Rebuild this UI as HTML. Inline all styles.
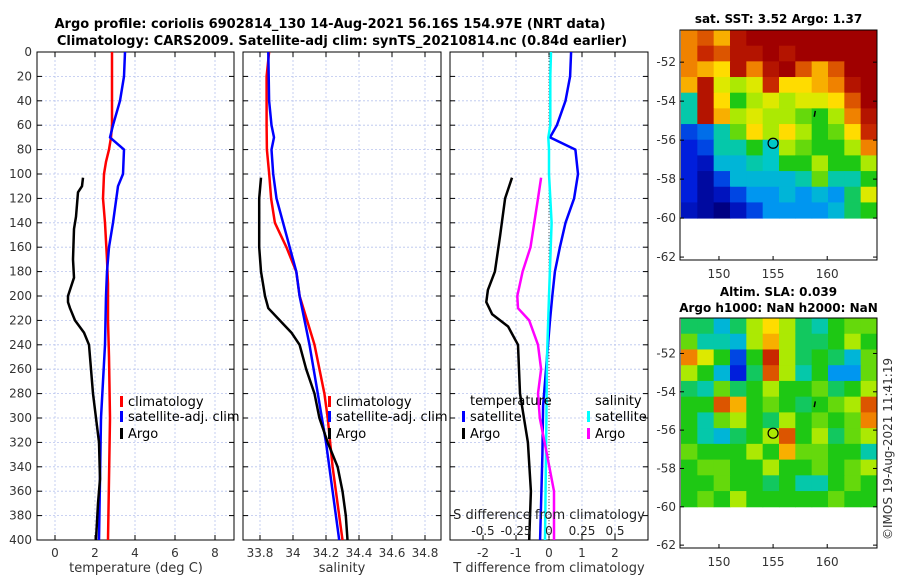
<!DOCTYPE html>
<html><head><meta charset="utf-8"><style>
body{margin:0;background:#fff;width:900px;height:580px;overflow:hidden}
svg{display:block;font-family:"DejaVu Sans","Liberation Sans",sans-serif}
</style></head><body>
<svg id="c" width="900" height="580"></svg>
<script>
// ---- data ----
const depthTicks=[0,20,40,60,80,100,120,140,160,180,200,220,240,260,280,300,320,340,360,380,400];
const tTicks=[0,2,4,6,8];
const sTicks=[33.8,34,34.2,34.4,34.6,34.8];
const dTicks=[-2,-1,0,1,2];
const sdTicks=[-0.5,-0.25,0,0.25,0.5];
const climTD=[0,20,40,60,70,80,90,100,120,140,170,190,220,250,300,350,400];
const climT=[2.85,2.85,2.85,2.85,2.8,2.7,2.55,2.45,2.4,2.5,2.6,2.65,2.65,2.7,2.75,2.7,2.65];
const satTD=[0,20,40,60,70,80,100,110,140,160,180,200,240,300,350,400];
const satT=[3.5,3.45,3.25,2.9,2.75,3.45,3.4,3.15,2.9,2.7,2.6,2.55,2.5,2.3,2.25,2.2];
const argoTD=[103,110,115,125,135,145,170,185,195,200,205,210,220,230,240,260,280,300,320,350,370,400];
const argoT=[1.4,1.35,1.15,1.1,1.05,0.95,0.9,0.95,0.75,0.65,0.65,0.75,1.0,1.45,1.7,1.8,1.9,2.05,2.2,2.25,2.15,2.05];
const climSD=[0,20,60,80,100,120,140,160,180,200,240,280,300,340,400];
const climS=[33.855,33.84,33.84,33.842,33.856,33.867,33.89,33.96,34.02,34.04,34.13,34.19,34.21,34.24,34.3];
const satSD=[0,40,60,70,80,100,120,140,160,180,200,240,280,320,360,400];
const satS=[33.85,33.855,33.87,33.885,33.87,33.88,33.9,33.94,33.98,34.02,34.04,34.1,34.15,34.2,34.24,34.28];
const argoSD=[103,120,160,180,200,210,220,230,240,260,280,300,320,340,360,380,400];
const argoS=[33.806,33.795,33.795,33.806,33.83,33.85,33.92,33.99,34.04,34.08,34.13,34.16,34.21,34.27,34.3,34.32,34.33];
const dSatTD=[0,20,40,60,70,80,100,120,140,160,180,200,220,250,290,330,400];
const dSatT=[0.67,0.64,0.5,0.24,0.03,0.8,0.88,0.76,0.5,0.33,0.18,0.1,0.03,-0.06,-0.18,-0.2,-0.27];
const dArgoTD=[103,120,150,180,195,205,215,225,240,280,320,360,400];
const dArgoT=[-1.12,-1.33,-1.48,-1.64,-1.85,-1.9,-1.72,-1.24,-0.94,-0.88,-0.64,-0.55,-0.6];
const dArgoSD=[103,120,160,180,200,210,220,240,260,280,300,330,360,400];
const dArgoS=[-0.06,-0.083,-0.14,-0.2,-0.24,-0.235,-0.15,-0.083,-0.06,-0.083,-0.07,-0.015,0.038,0.038];
const dSatSD=[0,20,60,70,80,100,140,200,250,300,400];
const dSatS=[0.015,0.01,0.01,-0.005,0,0,0.02,0,-0.015,-0.02,-0.03];
const lonTicks=[150,155,160];
const latTicks=[-52,-54,-56,-58,-60,-62];
const sstGrid=[
[0.8,0.85,0.75,0.95,1,1,1,1,1,1,1,1],
[0.8,0.9,0.85,0.95,0.95,1,0.95,1,1,1,1,1],
[0.8,0.75,0.7,0.95,0.8,0.95,1,0.85,0.75,0.85,1,1],
[0.75,0.95,0.65,0.6,0.65,0.9,0.7,0.7,0.75,0.8,0.95,1],
[0.4,0.95,0.7,0.5,0.6,0.65,0.6,0.65,0.65,0.7,0.85,1],
[0.4,0.95,0.75,0.6,0.65,0.6,0.6,0.55,0.5,0.6,0.8,0.95],
[0.2,0.25,0.4,0.55,0.7,0.6,0.7,0.6,0.5,0.55,0.7,0.9],
[0.15,0.2,0.4,0.4,0.5,0.38,0.6,0.55,0.5,0.5,0.6,0.8],
[0.15,0.1,0.35,0.35,0.4,0.38,0.5,0.5,0.6,0.5,0.5,0.6],
[0.15,0.05,0.2,0.35,0.35,0.35,0.35,0.4,0.55,0.4,0.4,0.5],
[0.15,0.05,0.1,0.2,0.3,0.3,0.35,0.3,0.35,0.3,0.45,0.65],
[0.1,0.05,0.0,0.1,0.2,0.3,0.3,0.3,0.3,0.35,0.45,0.5]];
const slaGrid=[
[0.45,0.45,0.35,0.45,0.6,0.7,0.6,0.45,0.4,0.5,0.55,0.55],
[0.55,0.4,0.4,0.35,0.6,0.75,0.6,0.45,0.45,0.5,0.6,0.5],
[0.8,0.65,0.5,0.2,0.5,0.9,0.6,0.45,0.5,0.45,0.35,0.55],
[0.6,0.5,0.35,0.15,0.45,0.85,0.6,0.4,0.5,0.3,0.3,0.55],
[0.45,0.4,0.55,0.45,0.5,0.6,0.5,0.5,0.55,0.45,0.5,0.6],
[0.5,0.5,0.85,0.75,0.5,0.55,0.5,0.45,0.5,0.55,0.6,0.85],
[0.5,0.4,0.55,0.6,0.5,0.45,0.6,0.5,0.55,0.5,0.55,0.8],
[0.5,0.4,0.35,0.45,0.5,0.6,0.85,0.5,0.6,0.45,0.55,0.6],
[0.55,0.5,0.5,0.5,0.6,0.5,0.75,0.55,0.55,0.5,0.5,0.4],
[0.5,0.55,0.55,0.5,0.5,0.6,0.5,0.5,0.55,0.5,0.55,0.6],
[0.5,0.5,0.55,0.5,0.5,0.45,0.5,0.4,0.4,0.5,0.55,0.5],
[0.5,0.55,0.5,0.6,0.5,0.5,0.5,0.5,0.5,0.55,0.5,0.5]];

const svg=document.getElementById('c');
const NS='http://www.w3.org/2000/svg';
function el(tag,attrs,parent,text){const e=document.createElementNS(NS,tag);for(const k in attrs)e.setAttribute(k,attrs[k]);if(text!==undefined)e.textContent=text;(parent||svg).appendChild(e);return e;}
const Y0=52,Y1=540;
const yD=d=>Y0+(d/400)*(Y1-Y0);

function panel(name,x0,x1,xmin,xmax,ticks,fmt,showY){
  const g=el('g',{});
  
  
  const sx=v=>x0+(v-xmin)/(xmax-xmin)*(x1-x0);
  ticks.forEach(t=>{el('line',{x1:sx(t),x2:sx(t),y1:Y0,y2:Y1,stroke:'#b8c4ee','stroke-width':0.8,'stroke-dasharray':'2,2'},g);
    el('text',{x:sx(t),y:Y1+17,'text-anchor':'middle','font-size':12,fill:'#333'},g,fmt(t));
    el('line',{x1:sx(t),x2:sx(t),y1:Y1,y2:Y1-5,stroke:'#000'},g);el('line',{x1:sx(t),x2:sx(t),y1:Y0,y2:Y0+5,stroke:'#000'},g);});
  depthTicks.forEach(d=>{el('line',{x1:x0,x2:x1,y1:yD(d),y2:yD(d),stroke:'#b8c4ee','stroke-width':0.8,'stroke-dasharray':'2,2'},g);
    el('line',{x1:x0,x2:x0+5,y1:yD(d),y2:yD(d),stroke:'#000'},g);el('line',{x1:x1-5,x2:x1,y1:yD(d),y2:yD(d),stroke:'#000'},g);
    if(showY){el('text',{x:x0-5,y:yD(d)+4,'text-anchor':'end','font-size':12,fill:'#333'},g,String(d));}});
  el('rect',{x:x0,y:Y0,width:x1-x0,height:Y1-Y0,fill:'none',stroke:'#000'},g);
  return {g,sx};
}
function line(p,depths,vals,color,name,w){
  const pts=depths.map((d,i)=>p.sx(vals[i]).toFixed(1)+','+yD(d).toFixed(1)).join(' ');
  const l=el('polyline',{points:pts,fill:'none',stroke:color,'stroke-width':w||2.5,'stroke-linejoin':'round'},p.g);
  
  
}
const p1=panel('temperature-panel',37,234,-0.9,8.95,tTicks,String,true);
line(p1,climTD,climT,'#f00','climatology-temp-line');
line(p1,satTD,satT,'#00f','satellite-temp-line');
line(p1,argoTD,argoT,'#000','argo-temp-line');
const p2=panel('salinity-panel',243,441,33.8-17/165,33.8+181/165,sTicks,v=>String(+v.toFixed(1)),false);
line(p2,climSD,climS,'#f00','climatology-salinity-line');
line(p2,satSD,satS,'#00f','satellite-salinity-line');
line(p2,argoSD,argoS,'#000','argo-salinity-line');
const p3=panel('difference-panel',450,648,-99/33,99/33,dTicks,String,false);
el('line',{x1:549,x2:549,y1:Y0,y2:Y1,stroke:'#555','stroke-width':1,'stroke-dasharray':'1,2'},p3.g);
const p3s={g:p3.g,sx:v=>549+v*132};
line(p3,dSatTD,dSatT,'#00f','t-diff-satellite-line');
line(p3s,dSatSD,dSatS,'#0ff','s-diff-satellite-line');
line(p3s,dArgoSD,dArgoS,'#f0f','s-diff-argo-line');
line(p3,dArgoTD,dArgoT,'#000','t-diff-argo-line');
el('text',{x:549,y:519,'text-anchor':'middle','font-size':13,fill:'#222'},p3.g,'S difference from climatology');
sdTicks.forEach(t=>el('text',{x:549+t*132,y:535,'text-anchor':'middle','font-size':12,fill:'#222'},p3.g,String(t)));

el('text',{x:136,y:572,'text-anchor':'middle','font-size':13,fill:'#333'},svg,'temperature (deg C)');
el('text',{x:342,y:572,'text-anchor':'middle','font-size':13,fill:'#333'},svg,'salinity');
el('text',{x:549,y:572,'text-anchor':'middle','font-size':13,fill:'#333'},svg,'T difference from climatology');
el('text',{x:330,y:28,'text-anchor':'middle','font-size':13,'font-weight':'bold'},svg,'Argo profile: coriolis 6902814_130 14-Aug-2021 56.16S 154.97E (NRT data)');
el('text',{x:342,y:45,'text-anchor':'middle','font-size':13,'font-weight':'bold'},svg,'Climatology: CARS2009. Satellite-adj clim: synTS_20210814.nc (0.84d earlier)');

function leg(x,y,color,label,name){const g=el('g',{});
  el('rect',{x:x,y:y-10,width:3,height:11,fill:color},g);el('text',{x:x+8,y:y,'font-size':13,fill:'#000'},g,label);}
leg(120,406,'#f00','climatology','legend-climatology');
leg(120,421,'#00f','satellite-adj. clim','legend-satellite');
leg(120,438,'#000','Argo','legend-argo');
leg(328,406,'#f00','climatology','legend-climatology-s');
leg(328,421,'#00f','satellite-adj. clim','legend-satellite-s');
leg(328,438,'#000','Argo','legend-argo-s');
el('text',{x:470,y:405,'font-size':13},svg,'temperature');
leg(462,421,'#00f','satellite','legend-t-satellite');
leg(462,438,'#000','Argo','legend-t-argo');
el('text',{x:595,y:405,'font-size':13},svg,'salinity');
leg(587,421,'#0ff','satellite','legend-s-satellite');
leg(587,438,'#f0f','Argo','legend-s-argo');

// colormap approximating reference
const cmapStops=[[0,[0,0,130]],[0.15,[0,30,220]],[0.3,[0,150,240]],[0.38,[0,200,200]],[0.5,[30,200,20]],[0.62,[200,240,0]],[0.7,[255,220,0]],[0.8,[240,130,0]],[0.9,[200,40,0]],[1,[160,0,0]]];
function cmap(v){v=Math.max(0,Math.min(1,v));for(let i=1;i<cmapStops.length;i++){const [a,ca]=cmapStops[i-1],[b,cb]=cmapStops[i];if(v<=b){const f=(v-a)/(b-a);return 'rgb('+ca.map((c,k)=>Math.round(c+f*(cb[k]-c))).join(',')+')';}}return 'rgb(160,0,0)';}
function map(name,title1,title2,ax0,ay0,ax1,ay1,latTop,grid){
  const g=el('g',{});
  const sx=lon=>ax0+(lon-146.4)/(164.6-146.4)*(ax1-ax0);
  const sy=lat=>ay0+(latTop-lat)/(latTop+62.15)*(ay1-ay0);
  const rows=grid.length,cols=grid[0].length;
  const ix0=ax0+1,ix1=ax1,iy0=ay0,iy1=sy(-60);
  const cw=(ix1-ix0)/cols,ch=(iy1-iy0)/rows;
  grid.forEach((row,r)=>row.forEach((v,c)=>{const cell=el('rect',{x:ix0+c*cw,y:iy0+r*ch,width:cw+0.5,height:ch+0.5,fill:cmap(v)},g);
    }));
  el('rect',{x:ax0,y:ay0,width:ax1-ax0,height:ay1-ay0,fill:'none',stroke:'#000'},g);
  lonTicks.forEach(l=>{el('line',{x1:sx(l),x2:sx(l),y1:ay1,y2:ay1-4,stroke:'#000'},g);el('text',{x:sx(l),y:ay1+18,'text-anchor':'middle','font-size':12,fill:'#333'},g,String(l));});
  latTicks.forEach(l=>{el('line',{x1:ax0,x2:ax0+4,y1:sy(l),y2:sy(l),stroke:'#000'},g);el('line',{x1:ax1,x2:ax1-4,y1:sy(l),y2:sy(l),stroke:'#000'},g);
    el('text',{x:ax0-4,y:sy(l)+4,'text-anchor':'end','font-size':12,fill:'#333'},g,String(l));});
  el('circle',{cx:sx(155),cy:sy(-56.16),r:5,fill:'none',stroke:'#000','stroke-width':1.2},g);
  el('line',{x1:sx(158.9),x2:sx(158.8),y1:sy(-54.5),y2:sy(-54.8),stroke:'#000','stroke-width':1.5},g);
  if(title1)el('text',{x:(ax0+ax1)/2,y:ay0-(title2?22:7),'text-anchor':'middle','font-size':12,'font-weight':'bold'},g,title1);
  if(title2)el('text',{x:(ax0+ax1)/2,y:ay0-6,'text-anchor':'middle','font-size':12,'font-weight':'bold'},g,title2);
}
map('sst-map','sat. SST: 3.52 Argo: 1.37',null,680,30,877,260,-50.35,sstGrid);
map('sla-map','Altim. SLA: 0.039','Argo h1000: NaN h2000: NaN',680,318,877,548,-50.15,slaGrid);
const cp=el('text',{x:892,y:540,'font-size':12,fill:'#333',transform:'rotate(-90 892 540)'},svg,'©IMOS 19-Aug-2021 11:41:19');

</script>
</body></html>
